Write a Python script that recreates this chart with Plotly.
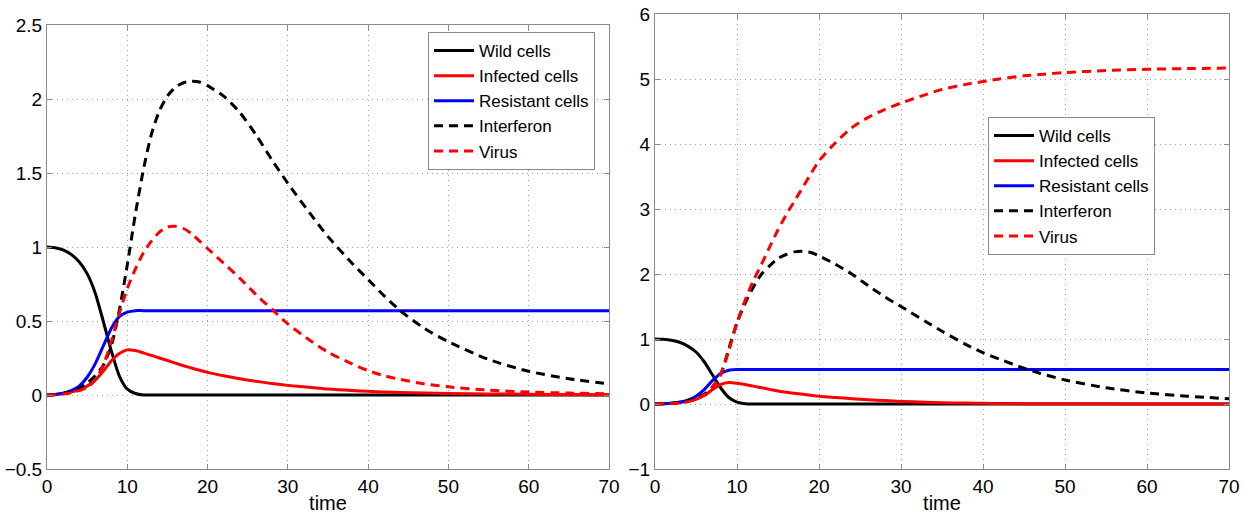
import plotly.graph_objects as go

# ---------------- data ----------------
# Left panel
t_L = [0, 1, 2, 3, 4, 5, 6, 7, 8, 9, 10, 11, 12, 13, 14, 15, 16, 17, 18, 19, 20,
       22, 24, 26, 28, 30, 33, 35, 38, 40, 42, 44, 47, 50, 55, 60, 65, 70]
wild_L = [1.0, 0.995, 0.98, 0.95, 0.9, 0.82, 0.69, 0.5, 0.3, 0.13, 0.04, 0.01, 0.0, 0.0, 0.0, 0.0, 0.0, 0.0, 0.0, 0.0, 0.0,
          0.0, 0.0, 0.0, 0.0, 0.0, 0.0, 0.0, 0.0, 0.0, 0.0, 0.0, 0.0, 0.0, 0.0, 0.0, 0.0, 0.0]
infected_L = [0.0, 0.004, 0.01, 0.02, 0.035, 0.06, 0.1, 0.16, 0.23, 0.28, 0.305, 0.3, 0.285, 0.268, 0.25, 0.233, 0.215, 0.198, 0.182, 0.167, 0.153,
              0.13, 0.11, 0.093, 0.078, 0.065, 0.05, 0.04, 0.03, 0.025, 0.02, 0.017, 0.013, 0.01, 0.007, 0.005, 0.003, 0.002]
resistant_L = [0.0, 0.004, 0.012, 0.03, 0.06, 0.12, 0.21, 0.33, 0.45, 0.53, 0.56, 0.57, 0.57, 0.57, 0.57, 0.57, 0.57, 0.57, 0.57, 0.57, 0.57,
               0.57, 0.57, 0.57, 0.57, 0.57, 0.57, 0.57, 0.57, 0.57, 0.57, 0.57, 0.57, 0.57, 0.57, 0.57, 0.57, 0.57]
interferon_L = [0.0, 0.003, 0.01, 0.025, 0.045, 0.08, 0.13, 0.2, 0.33, 0.57, 0.88, 1.22, 1.52, 1.76, 1.92, 2.02, 2.08, 2.11, 2.12, 2.115, 2.09,
                2.02, 1.91, 1.76, 1.59, 1.43, 1.21, 1.07, 0.89, 0.78, 0.67, 0.57, 0.45, 0.36, 0.24, 0.16, 0.11, 0.075]
virus_L = [0.0, 0.002, 0.006, 0.015, 0.03, 0.05, 0.1, 0.2, 0.36, 0.55, 0.72, 0.85, 0.96, 1.04, 1.1, 1.135, 1.14, 1.125, 1.09, 1.04, 0.99,
           0.89, 0.79, 0.68, 0.58, 0.48, 0.36, 0.29, 0.21, 0.165, 0.13, 0.105, 0.075, 0.055, 0.033, 0.02, 0.013, 0.008]

# Right panel
t_R = [0, 1, 2, 3, 4, 5, 6, 7, 8, 9, 10, 11, 12, 13, 14, 15, 16, 17, 18, 19, 20,
       22, 24, 26, 28, 30, 33, 35, 38, 40, 42, 45, 47, 50, 55, 60, 65, 70]
wild_R = [1.0, 0.995, 0.98, 0.95, 0.89, 0.8, 0.65, 0.45, 0.25, 0.1, 0.03, 0.005, 0.0, 0.0, 0.0, 0.0, 0.0, 0.0, 0.0, 0.0, 0.0,
          0.0, 0.0, 0.0, 0.0, 0.0, 0.0, 0.0, 0.0, 0.0, 0.0, 0.0, 0.0, 0.0, 0.0, 0.0, 0.0, 0.0]
infected_R = [0.0, 0.004, 0.01, 0.02, 0.04, 0.07, 0.13, 0.22, 0.3, 0.33, 0.32, 0.3, 0.275, 0.25, 0.225, 0.2, 0.18, 0.165, 0.15, 0.135, 0.12,
              0.1, 0.082, 0.065, 0.052, 0.04, 0.027, 0.02, 0.014, 0.01, 0.008, 0.005, 0.004, 0.003, 0.002, 0.001, 0.0, 0.0]
resistant_R = [0.0, 0.004, 0.012, 0.03, 0.06, 0.12, 0.22, 0.36, 0.47, 0.52, 0.53, 0.53, 0.53, 0.53, 0.53, 0.53, 0.53, 0.53, 0.53, 0.53, 0.53,
               0.53, 0.53, 0.53, 0.53, 0.53, 0.53, 0.53, 0.53, 0.53, 0.53, 0.53, 0.53, 0.53, 0.53, 0.53, 0.53, 0.53]
interferon_R = [0.0, 0.003, 0.01, 0.025, 0.05, 0.09, 0.15, 0.26, 0.45, 0.85, 1.25, 1.55, 1.8, 2.0, 2.13, 2.24, 2.3, 2.34, 2.35, 2.33, 2.28,
                2.15, 2.0, 1.82, 1.65, 1.5, 1.27, 1.12, 0.91, 0.79, 0.69, 0.55, 0.47, 0.37, 0.25, 0.17, 0.12, 0.08]
virus_R = [0.0, 0.002, 0.006, 0.015, 0.035, 0.07, 0.14, 0.26, 0.45, 0.82, 1.25, 1.6, 1.9, 2.15, 2.42, 2.68, 2.91, 3.12, 3.33, 3.54, 3.74,
           4.02, 4.25, 4.41, 4.53, 4.63, 4.76, 4.84, 4.92, 4.96, 5.0, 5.05, 5.07, 5.1, 5.13, 5.15, 5.16, 5.17]

series_names = ["Wild cells", "Infected cells", "Resistant cells", "Interferon", "Virus"]
x_ticks = [0, 10, 20, 30, 40, 50, 60, 70]
y_ticks_L = [-0.5, 0, 0.5, 1, 1.5, 2, 2.5]
y_ticks_R = [-1, 0, 1, 2, 3, 4, 5, 6]

# ---------------- figure ----------------
colors = ["#000000", "#ff0000", "#0000ff", "#000000", "#ff0000"]
dashes = ["solid", "solid", "solid", "9px,6px", "9px,6px"]

fig = go.Figure()
left = [wild_L, infected_L, resistant_L, interferon_L, virus_L]
right = [wild_R, infected_R, resistant_R, interferon_R, virus_R]
for i, name in enumerate(series_names):
    fig.add_trace(go.Scatter(x=t_L, y=left[i], name=name, mode="lines",
                             line=dict(color=colors[i], width=3, dash=dashes[i], shape="spline", smoothing=0.7),
                             xaxis="x", yaxis="y", legend="legend"))
for i, name in enumerate(series_names):
    fig.add_trace(go.Scatter(x=t_R, y=right[i], name=name, mode="lines",
                             line=dict(color=colors[i], width=3, dash=dashes[i], shape="spline", smoothing=0.7),
                             xaxis="x2", yaxis="y2", legend="legend2"))

W, H = 1253, 514
FAM = "Liberation Sans, Arial, sans-serif"
tickfont = dict(family=FAM, size=19, color="black")
axis_common = dict(showline=True, linecolor="#8a8a8a", linewidth=1, mirror="ticks",
                   ticks="inside", ticklen=5, tickcolor="#8a8a8a",
                   showgrid=True, gridcolor="#a0a0a0", griddash="1px,4px", gridwidth=1,
                   zeroline=False, tickfont=tickfont, automargin=False)
title_font = dict(size=20, family=FAM, color="black")
legend_common = dict(xanchor="left", yanchor="top", bgcolor="white", bordercolor="#8a8a8a", borderwidth=1,
                     font=dict(size=17, family=FAM, color="black"), tracegroupgap=0, itemwidth=40)

fig.update_layout(
    width=W, height=H,
    margin=dict(l=0, r=0, t=0, b=0),
    paper_bgcolor="white", plot_bgcolor="white",
    font=dict(family=FAM, color="black"),
    showlegend=True,
    xaxis=dict(domain=[47 / W, 609 / W], range=[0, 70], tickvals=x_ticks, anchor="y",
               title=dict(text="time", font=title_font, standoff=0), **axis_common),
    yaxis=dict(domain=[1 - 469 / H, 1 - 25 / H], range=[-0.5, 2.5], tickvals=y_ticks_L, anchor="x",
               **axis_common),
    xaxis2=dict(domain=[655 / W, 1229 / W], range=[0, 70], tickvals=x_ticks, anchor="y2",
                title=dict(text="time", font=title_font, standoff=0), **axis_common),
    yaxis2=dict(domain=[1 - 469 / H, 1 - 14 / H], range=[-1, 6], tickvals=y_ticks_R, anchor="x2",
                **axis_common),
    legend=dict(x=428 / W, y=1 - 32 / H, **legend_common),
    legend2=dict(x=988 / W, y=1 - 117 / H, **legend_common),
)

fig.write_html("out.html")
